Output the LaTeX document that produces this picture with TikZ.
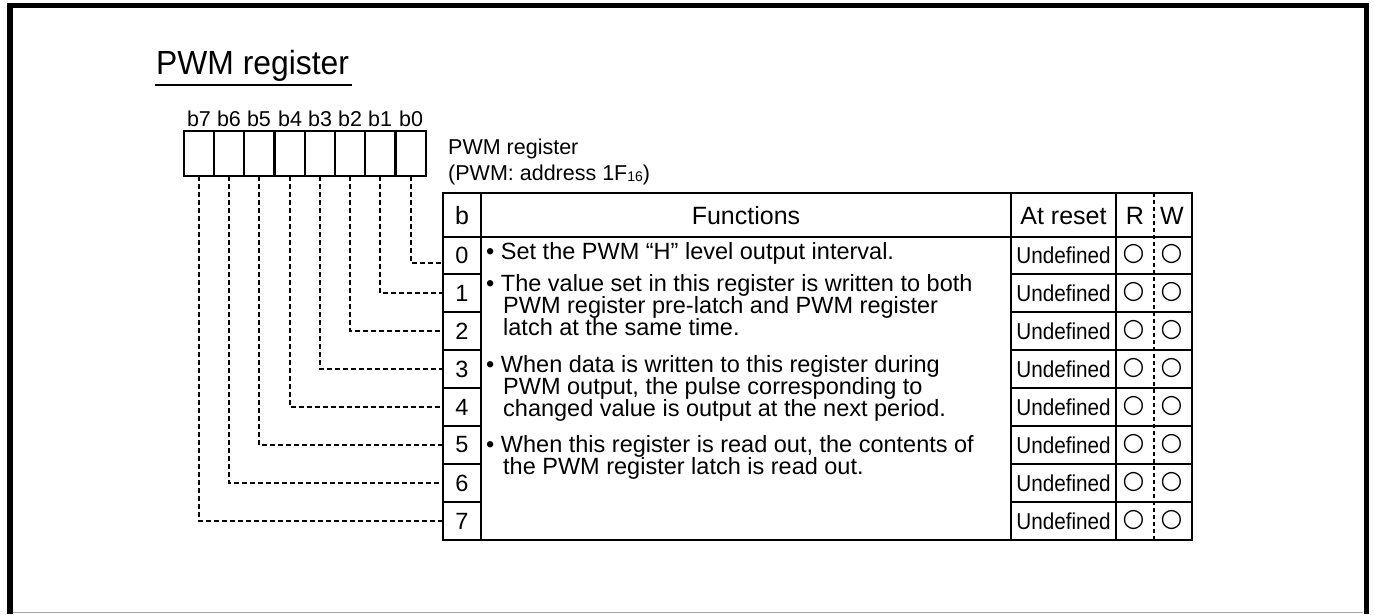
\documentclass[tikz,border=0pt]{standalone}
\usepackage{fontspec}
\setmainfont{Liberation Sans}
\newfontfamily\fnarrow{Liberation Sans}[FakeStretch=0.95]
\newfontfamily\fcond{Liberation Sans}[FakeStretch=0.9]
\newfontfamily\symfont{DejaVu Sans}
\begin{document}
\begin{tikzpicture}[x=1pt,y=-1pt,
  tline/.style={line width=2pt},
  conn/.style={line width=2pt, dash pattern=on 5pt off 3pt},
  rwdiv/.style={line width=1.3pt, dash pattern=on 4pt off 3pt},
  bitbox/.style={draw, line width=2pt, minimum width=30.4pt, minimum height=45pt, inner sep=0pt, outer sep=0pt},
  bitlbl/.style={anchor=base, inner sep=0pt, font=\fontsize{21.5}{21.5}\selectfont},
  bcell/.style={draw, line width=2pt, minimum width=38pt, inner sep=0pt, outer sep=0pt, font=\fontsize{23.5}{23.5}\selectfont},
  ucell/.style={draw, line width=2pt, minimum width=105pt, inner sep=0pt, outer sep=0pt, font=\fcond\fontsize{23}{23}\selectfont},
  circ/.style={inner sep=0pt, font=\symfont\fontsize{25}{25}\selectfont},
  hdr/.style={anchor=base, inner sep=0pt, font=\fontsize{25}{25}\selectfont},
  ftxt/.style={anchor=base west, inner sep=0pt, font=\fontsize{23.5}{23.5}\selectfont},
  lbl/.style={anchor=base west, inner sep=0pt, font=\fontsize{21.5}{21.5}\selectfont}
]
\useasboundingbox (0,0) rectangle (1374,614);
% frame
\draw[line width=5.4pt, line join=miter] (10,614) -- (10,5.7) -- (1366.3,5.7) -- (1366.3,614);
\draw[line width=1pt, black!35] (12.7,612.7) -- (1363.3,612.7);
% title
\node[anchor=base west, inner sep=0pt, font=\fnarrow\fontsize{33.5}{33.5}\selectfont] (title) at (156,74.5) {PWM register};
\draw[line width=1.4pt] ([xshift=-1pt,yshift=-10.5pt]title.base west) -- ([xshift=3pt,yshift=-10.5pt]title.base east);
% bit boxes
\foreach \bx/\k in {199/7,229/6,259/5,290/4,320/3,350/2,380/1,411/0} {
  \node[bitbox] (bx\k) at (\bx,153.5) {};
  \node[bitlbl] (bl\k) at (\bx,126) {b\k};
}
% register label
\node[lbl] (lab1) at (448,154) {PWM register};
\node[lbl] (lab2) at (448,180) {(PWM: address 1F{\fontsize{14}{14}\selectfont\raisebox{-1pt}{16}})};
% table header
\node[hdr] (hb) at (462,224.5) {b};
\node[hdr] (hf) at (746,224.5) {Functions};
\node[hdr] (ha) at (1063.5,224.5) {At reset};
\node[hdr] (hr) at (1135,224.5) {R};
\node[hdr] (hw) at (1172,224.5) {W};
% rows
\foreach \k/\cy/\h in {0/255.5/37,1/293/38,2/331/38,3/369/38,4/407/38,5/445/38,6/483/38,7/521/38} {
  \node[bcell, minimum height=\h pt] (rb\k) at (462,\cy) {\k};
  \node[ucell, minimum height=\h pt] (u\k) at (1063.5,\cy) {Undefined};
  \node[circ] (r\k) at (1133.5,\cy-1.5) {○};
  \node[circ] (w\k) at (1171.5,\cy-1.5) {○};
}
\foreach \k in {0,...,6} \draw[tline] (u\k.south east) -- ++(76,0);
% table outline
\draw[tline] (443,193) rectangle (1192,540);
\draw[tline] (443,237) -- (1192,237);
\draw[tline] (481,193) -- (481,540);
\draw[tline] (1011,193) -- (1011,540);
\draw[tline] (1116,193) -- (1116,540);
\draw[rwdiv] (1154,193) -- (1154,540);
% function text
\node[ftxt] (f1) at (486,259) {• Set the PWM “H” level output interval.};
\node[ftxt] (f2) at (486,291) {• The value set in this register is written to both};
\node[ftxt] (f3) at (503,313) {PWM register pre-latch and PWM register};
\node[ftxt] (f4) at (503,335) {latch at the same time.};
\node[ftxt] (f5) at (486,372) {• When data is written to this register during};
\node[ftxt] (f6) at (503,394) {PWM output, the pulse corresponding to};
\node[ftxt] (f7) at (503,416) {changed value is output at the next period.};
\node[ftxt] (f8) at (486,452) {• When this register is read out, the contents of};
\node[ftxt] (f9) at (503,474) {the PWM register latch is read out.};
% connectors
\foreach \k in {1,...,7} \draw[conn] (bx\k.south) |- (rb\k.west);
\draw[conn] (bx0.south) |- ([yshift=-7.5pt]rb0.west);
\end{tikzpicture}
\end{document}
